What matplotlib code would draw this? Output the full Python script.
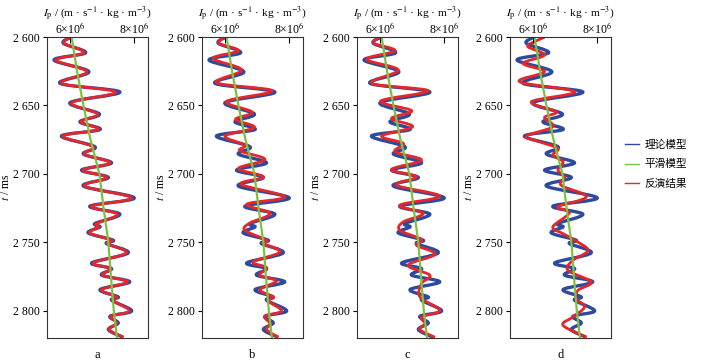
import matplotlib
matplotlib.use("Agg")
import matplotlib.pyplot as plt
from matplotlib.lines import Line2D
from matplotlib.path import Path
from matplotlib.patches import PathPatch
import numpy as np

plt.rcParams["font.family"] = ["Liberation Serif", "Noto Sans CJK SC"]
plt.rcParams["mathtext.fontset"] = "stix"

BLUE  = "#2D4A9C"
GREEN = "#7CC242"
RED   = "#E5262B"

# true model (blue), same in every panel; values in 1e6 m·s-1·kg·m-3
t_model = [2600.2, 2604.6, 2611.5, 2616.8, 2625.4, 2633.9, 2640.2, 2648.0, 2656.3, 2662.0,
           2667.6, 2672.4, 2680.2, 2685.6, 2692.0, 2697.3, 2702.7, 2709.0, 2717.6, 2723.7,
           2729.5, 2736.3, 2738.8, 2743.2, 2748.5, 2751.0, 2757.8, 2765.1, 2769.3, 2774.1,
           2779.0, 2784.6, 2790.0, 2792.4, 2800.2, 2804.1, 2809.0, 2813.9, 2819.5]
v_model = [6.02, 5.79, 6.49, 5.50, 6.59, 5.69, 7.56, 6.00, 6.92, 6.31,
           6.94, 5.73, 6.78, 6.42, 7.30, 6.36, 7.20, 6.42, 8.01, 6.62,
           7.56, 6.78, 6.94, 6.57, 7.35, 7.14, 7.82, 6.68, 7.30, 6.99,
           7.87, 6.94, 7.51, 7.30, 7.93, 7.25, 7.51, 7.20, 7.67]

# smoothed (initial) model
t_smooth = [2600, 2625, 2650, 2675, 2700, 2725, 2750, 2775, 2800, 2820]
v_smooth = [6.05, 6.22, 6.42, 6.64, 6.92, 7.05, 7.20, 7.28, 7.37, 7.47]

# inversion results
t_inv_a = t_model
v_inv_a = [6.02, 5.82, 6.44, 5.56, 6.53, 5.74, 7.43, 6.05, 6.86, 6.34,
           6.89, 5.77, 6.73, 6.45, 7.25, 6.40, 7.15, 6.46, 7.93, 6.67,
           7.49, 6.82, 6.90, 6.62, 7.30, 7.17, 7.76, 6.73, 7.26, 7.03,
           7.80, 6.99, 7.46, 7.33, 7.86, 7.28, 7.46, 7.23, 7.67]

t_inv_b = [2600.2, 2604.6, 2610.0, 2615.6, 2624.1, 2633.4, 2639.3, 2647.1, 2654.9, 2660.2,
           2666.1, 2672.4, 2679.0, 2683.2, 2689.5, 2696.1, 2702.2, 2707.6, 2716.8, 2722.2,
           2729.0, 2735.9, 2741.2, 2748.5, 2751.0, 2757.1, 2764.4, 2768.5, 2774.1, 2778.3,
           2784.6, 2790.0, 2792.9, 2800.2, 2804.1, 2809.5, 2813.9, 2819.5]
v_inv_b = [5.98, 5.81, 6.42, 5.63, 6.52, 5.74, 7.48, 6.05, 6.85, 6.33,
           6.92, 6.00, 6.62, 6.47, 7.25, 6.42, 7.20, 6.50, 7.87, 6.68,
           7.41, 6.78, 6.62, 7.30, 7.20, 7.72, 6.88, 7.30, 7.09, 7.61,
           7.09, 7.51, 7.35, 7.77, 7.25, 7.41, 7.30, 7.67]

t_inv_c = [2600.2, 2604.6, 2610.0, 2616.3, 2624.1, 2633.9, 2639.3, 2646.8, 2653.9, 2659.5,
           2665.6, 2672.4, 2677.8, 2683.9, 2690.0, 2696.8, 2702.2, 2708.3, 2716.3, 2722.9,
           2729.0, 2735.1, 2741.2, 2748.0, 2752.2, 2758.8, 2766.8, 2774.1, 2780.2, 2790.0,
           2799.8, 2804.6, 2809.5, 2813.9, 2819.5]
v_inv_c = [5.98, 5.81, 6.47, 5.58, 6.57, 5.74, 7.51, 6.02, 6.99, 6.36,
           7.02, 6.05, 6.73, 6.47, 7.30, 6.36, 7.14, 6.52, 7.87, 6.62,
           7.35, 6.73, 6.62, 7.30, 7.14, 7.72, 6.88, 7.56, 7.30, 7.25,
           7.87, 7.30, 7.41, 7.25, 7.72]

t_inv_d = [2600.2, 2603.4, 2607.1, 2613.2, 2619.3, 2625.4, 2632.7, 2640.0, 2647.3, 2654.6,
           2658.8, 2665.6, 2672.4, 2676.6, 2681.5, 2686.3, 2691.2, 2697.3, 2702.2, 2708.3,
           2716.8, 2724.1, 2728.5, 2738.8, 2743.7, 2748.5, 2755.9, 2763.2, 2770.5, 2779.0,
           2785.1, 2791.2, 2797.3, 2804.6, 2810.7, 2819.5]
v_inv_d = [6.36, 6.05, 5.84, 6.36, 5.69, 6.36, 5.58, 7.30, 5.95, 6.73,
           6.36, 6.62, 5.79, 6.21, 6.78, 6.62, 6.94, 6.78, 6.99, 6.88,
           7.67, 6.78, 7.14, 6.62, 6.94, 7.30, 7.72, 7.25, 7.09, 7.82,
           7.41, 7.35, 7.61, 7.25, 6.94, 7.67]

panels = [("a", t_inv_a, v_inv_a), ("b", t_inv_b, v_inv_b),
          ("c", t_inv_c, v_inv_c), ("d", t_inv_d, v_inv_d)]
yticks = [2600, 2650, 2700, 2750, 2800]


def smooth_curve(v, t):
    # Catmull-Rom style bezier through the read points (rounded peaks like the original)
    pts = np.column_stack([np.array(v) * 1e6, t])
    verts, codes = [pts[0]], [Path.MOVETO]
    n = len(pts)
    for i in range(n - 1):
        p0 = pts[max(i - 1, 0)]
        p1, p2 = pts[i], pts[i + 1]
        p3 = pts[min(i + 2, n - 1)]
        verts += [p1 + (p2 - p0) / 6, p2 - (p3 - p1) / 6, p2]
        codes += [Path.CURVE4] * 3
    return Path(verts, codes)


W, H = 706, 361
fig = plt.figure(figsize=(W / 100, H / 100), dpi=100)

for left, (tag, t_inv, v_inv) in zip([47, 202, 357, 510], panels):
    ax = fig.add_axes([left / W, (H - 338) / H, 101 / W, 301 / H])
    ax.add_patch(PathPatch(smooth_curve(v_model, t_model), facecolor="none",
                           edgecolor=BLUE, lw=2.4, joinstyle="round"))
    ax.plot(np.array(v_smooth) * 1e6, t_smooth, color=GREEN, lw=1.6)
    ax.add_patch(PathPatch(smooth_curve(v_inv, t_inv), facecolor="none",
                           edgecolor=RED, lw=2.0, joinstyle="round"))

    ax.set_xlim(5.28e6, 8.44e6)
    ax.set_ylim(2820, 2600)
    ax.xaxis.tick_top()
    ax.set_xticks([6e6, 8e6])
    ax.set_xticklabels([r"6×10$^{6}$", r"8×10$^{6}$"], fontsize=8.5)
    ax.set_yticks(yticks)
    ax.set_yticklabels([f"{y // 1000} {y % 1000:03d}" for y in yticks], fontsize=8.5)
    ax.tick_params(axis="x", direction="in", length=4, width=0.8, pad=0.5)
    ax.tick_params(axis="y", direction="out", length=3, width=0.8, pad=2)
    for s in ax.spines.values():
        s.set_linewidth(0.8)
        s.set_color("#333333")
    ax.set_ylabel(r"$t$ / ms", fontsize=8.5, labelpad=1)
    ax.text(0.5, 1.078, r"$I_\mathrm{p}$ / (m · s$^{-1}$ · kg · m$^{-3}$)",
            transform=ax.transAxes, ha="center", va="center", fontsize=8.2)
    ax.text(0.5, -0.035, tag, transform=ax.transAxes, ha="center", va="top", fontsize=9)

handles = [Line2D([], [], color=BLUE, lw=1.0),
           Line2D([], [], color=GREEN, lw=1.0),
           Line2D([], [], color=RED, lw=1.0)]
fig.legend(handles, ["理论模型", "平滑模型", "反演结果"],
           loc="center left", bbox_to_anchor=(0.872, 0.545), frameon=False,
           prop={"family": "Noto Sans CJK SC", "size": 7.7},
           handlelength=1.3, handletextpad=0.5, labelspacing=0.9)

fig.savefig("out.png", dpi=100)
